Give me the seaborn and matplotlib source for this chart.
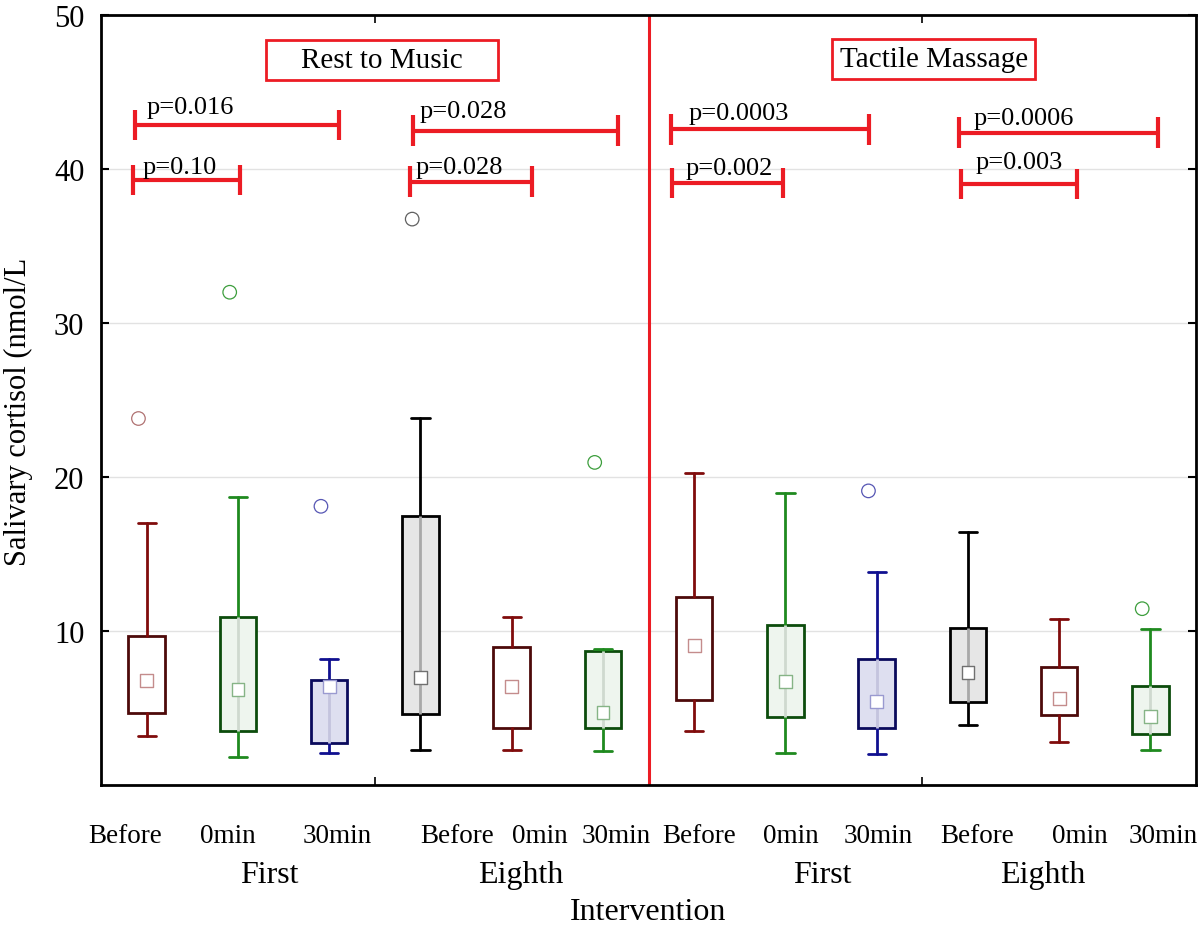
import numpy as np
import pandas as pd
import matplotlib
matplotlib.use("Agg")
import matplotlib.pyplot as plt
from matplotlib.patches import Rectangle
import seaborn as sns

sns.set_style("white")
plt.rcParams["font.family"] = ["Liberation Serif", "DejaVu Serif"]
plt.rcParams["text.color"] = "black"
plt.rcParams["axes.labelcolor"] = "black"
plt.rcParams["xtick.color"] = "black"
plt.rcParams["ytick.color"] = "black"

# ---- data ----
interventions = ["Rest to Music", "Tactile Massage"]
sessions = ["First", "Eighth", "First", "Eighth"]
times = ["Before", "0min", "30min"] * 4

medians = [6.8, 6.2, 6.4, 7.0, 6.4, 4.7, 9.05, 6.7, 5.4, 7.3, 5.6, 4.45]
q1 = [4.7, 3.5, 2.7, 4.6, 3.7, 3.7, 5.5, 4.4, 3.7, 5.4, 4.55, 3.3]
q3 = [9.7, 10.9, 6.8, 17.45, 8.95, 8.7, 12.2, 10.4, 8.2, 10.2, 7.65, 6.4]
whis_lo = [3.2, 1.8, 2.1, 2.3, 2.3, 2.2, 3.5, 2.1, 2.0, 3.9, 2.8, 2.3]
whis_hi = [17.0, 18.7, 8.2, 23.85, 10.9, 8.85, 20.25, 18.95, 13.85, 16.45, 10.8, 10.15]

outlier_box = [0, 1, 2, 3, 5, 8, 11]
outlier_val = [23.8, 32.0, 18.1, 36.75, 20.95, 19.1, 11.45]

sig_p = ["p=0.016", "p=0.10", "p=0.028", "p=0.028",
         "p=0.0003", "p=0.002", "p=0.0006", "p=0.003"]
sig_x0 = [-0.13, -0.15, 2.92, 2.89, 5.75, 5.76, 8.90, 8.92]
sig_x1 = [2.11, 1.02, 5.16, 4.22, 7.92, 6.97, 11.08, 10.20]
sig_y = [42.86, 39.29, 42.49, 39.18, 42.57, 39.10, 42.36, 39.03]

# ---- layout / styles ----
sig_text_x = [0.0, -0.04, 2.99, 2.95, 5.94, 5.905, 9.06, 9.085]
sig_text_y = [43.66, 39.74, 43.35, 39.77, 43.25, 39.68, 42.92, 40.1]
time_label_x = [-0.24, 0.89, 2.09, 3.40, 4.31, 5.14, 6.05, 7.06, 8.02, 9.10, 10.23, 11.14]
session_label_x = [1.34, 4.10, 7.41, 9.82]
intervention_box = [(1.31, 45.78, 2.54, 2.6), (7.51, 45.84, 2.23, 2.6)]

box_kind = ["maroon", "green", "navy", "black", "maroon", "green",
            "maroon", "green", "navy", "black", "maroon", "green"]
styles = {
    "maroon": dict(edge="#4d0a0a", whisk="#800c0c", fill="#ffffff", med="#c48c8c", out="#b07272", mid=None),
    "green": dict(edge="#0c4c0c", whisk="#1f8a1f", fill="#eef5ee", med="#86b486", out="#3d9e3d", mid="#cfd9cf"),
    "navy": dict(edge="#0a0a5c", whisk="#101090", fill="#dedff0", med="#9a9ad0", out="#5656b4", mid="#c4c4de"),
    "black": dict(edge="#000000", whisk="#000000", fill="#e6e6e6", med="#707070", out="#606060", mid="#a8a8a8"),
}
RED = "#ec1c24"

fig = plt.figure(figsize=(12, 9.28), dpi=100)
ax = fig.add_axes([0.0842, 0.153, 0.9125, 0.8297])

positions = np.arange(len(medians))
stats = [dict(med=m, q1=a, q3=b, whislo=lo, whishi=hi, fliers=[])
         for m, a, b, lo, hi in zip(medians, q1, q3, whis_lo, whis_hi)]
art = ax.bxp(stats, positions=positions, widths=0.4, patch_artist=True,
             showfliers=False, manage_ticks=False,
             medianprops=dict(linewidth=0))

for i, kind in enumerate(box_kind):
    st = styles[kind]
    art["boxes"][i].set(facecolor=st["fill"], edgecolor=st["edge"], linewidth=2)
    for ln in art["whiskers"][2 * i:2 * i + 2] + art["caps"][2 * i:2 * i + 2]:
        ln.set(color=st["whisk"], linewidth=2)
    if st["mid"]:
        ax.vlines(positions[i], q1[i], q3[i], color=st["mid"], lw=2, zorder=3)

# median squares
sns.scatterplot(x=positions, y=medians, marker="s", s=85, color="white",
                edgecolor=[styles[k]["med"] for k in box_kind], linewidth=1,
                zorder=5, legend=False, ax=ax)

# outliers (open circles)
out_x = [positions[b] - 0.09 for b in outlier_box]
sns.scatterplot(x=out_x, y=outlier_val, marker="o", s=95, color="none",
                edgecolor=[styles[box_kind[b]]["out"] for b in outlier_box],
                linewidth=0.9, zorder=5, legend=False, ax=ax)

# significance brackets
for x0, x1, y, p, tx, ty in zip(sig_x0, sig_x1, sig_y, sig_p, sig_text_x, sig_text_y):
    ax.plot([x0, x1], [y, y], color=RED, lw=3, solid_capstyle="butt")
    ax.vlines([x0, x1], y - 1.0, y + 1.0, color=RED, lw=3)
    ax.text(tx, ty, p, fontsize=19, ha="left", va="baseline")

# intervention title boxes
for (bx, by, bw, bh), name in zip(intervention_box, interventions):
    ax.add_patch(Rectangle((bx, by), bw, bh, facecolor="white", edgecolor=RED, lw=2, zorder=4))
    ax.text(bx + bw / 2, by + bh / 2, name, fontsize=21, ha="center", va="center", zorder=5)

ax.axvline(5.5, color=RED, lw=2.2, zorder=2)

ax.set_xlim(-0.5, 11.5)
ax.set_ylim(0, 50)
ax.set_yticks([10, 20, 30, 40, 50])
ax.set_xticks([2.5, 8.5])
ax.set_xticklabels([])
ax.yaxis.grid(True, color="#e2e2e2", lw=1)
ax.set_axisbelow(True)
ax.tick_params(axis="y", direction="in", left=True, right=True, length=6, width=1.5,
               labelsize=22, pad=12, colors="black")
ax.tick_params(axis="x", direction="in", bottom=True, top=True, length=6, width=1.2,
               colors="black")
for sp in ax.spines.values():
    sp.set_color("black")
    sp.set_linewidth(2)

tr = ax.get_xaxis_transform()
for x, t in zip(time_label_x, times):
    ax.text(x, -0.065, t, transform=tr, fontsize=19.5, ha="center", va="center")
for x, s in zip(session_label_x, sessions):
    ax.text(x, -0.116, s, transform=tr, fontsize=23, ha="center", va="center")
ax.text(5.5, -0.164, "Intervention", transform=tr, fontsize=23, ha="center", va="center")

ax.set_xlabel("")
ax.set_ylabel("Salivary cortisol (nmol/L", fontsize=22, color="black")
ax.yaxis.set_label_coords(-0.062, 0.486)

fig.savefig("out.png", dpi=100)
